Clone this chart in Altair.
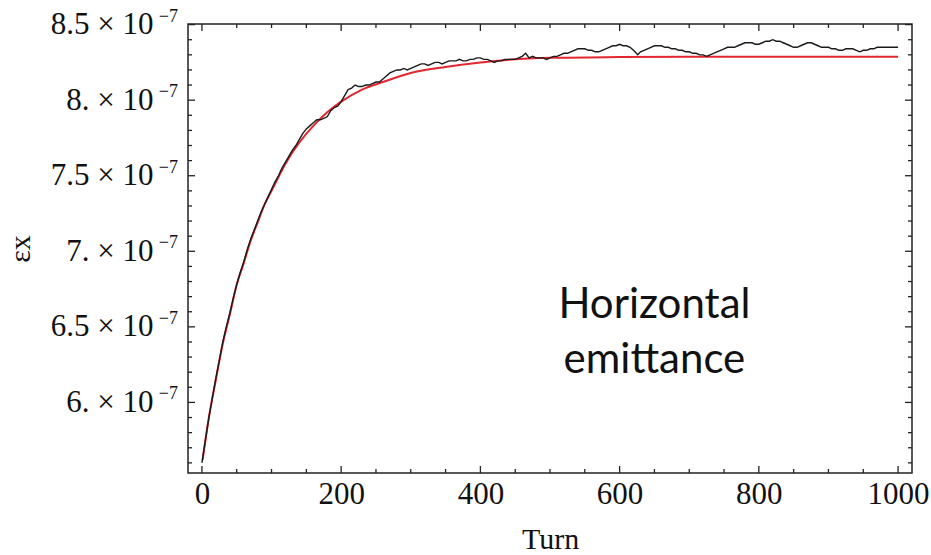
import altair as alt
import pandas as pd

# Simulation (black): turn and emittance in units of 1e-7
black_turn = [0, 5, 10, 15, 20, 25, 30, 35, 40, 45,
              50, 55, 60, 65, 70, 75, 80, 85, 90, 95,
              100, 105, 110, 115, 120, 125, 130, 135, 140, 145,
              150, 155, 160, 165, 170, 175, 180, 185, 190, 195,
              200, 205, 210, 215, 220, 225, 230, 235, 240, 245,
              250, 255, 260, 265, 270, 275, 280, 285, 290, 295,
              300, 305, 310, 315, 320, 325, 330, 335, 340, 345,
              350, 355, 360, 365, 370, 375, 380, 385, 390, 395,
              400, 405, 410, 415, 420, 425, 430, 435, 440, 445,
              450, 455, 460, 465, 470, 475, 480, 485, 490, 495,
              500, 505, 510, 515, 520, 525, 530, 535, 540, 545,
              550, 555, 560, 565, 570, 575, 580, 585, 590, 595,
              600, 605, 610, 615, 620, 626, 630, 635, 640, 645,
              650, 655, 660, 665, 670, 675, 680, 685, 690, 695,
              700, 705, 710, 715, 720, 725, 730, 735, 740, 745,
              750, 755, 760, 765, 770, 775, 780, 785, 790, 795,
              800, 805, 810, 815, 820, 825, 830, 835, 840, 845,
              850, 855, 860, 865, 870, 875, 880, 885, 890, 895,
              900, 905, 910, 915, 920, 925, 930, 935, 940, 945,
              950, 955, 960, 965, 970, 975, 980, 985, 990, 995,
              1000]
black_val = [5.60, 5.75, 5.90, 6.03, 6.16, 6.28, 6.40, 6.50, 6.59, 6.69,
             6.78, 6.86, 6.93, 7.01, 7.08, 7.14, 7.20, 7.26, 7.31, 7.36,
             7.41, 7.46, 7.50, 7.55, 7.59, 7.63, 7.67, 7.70, 7.74, 7.78,
             7.81, 7.83, 7.85, 7.87, 7.87, 7.88, 7.89, 7.93, 7.95, 7.96,
             7.99, 8.03, 8.07, 8.08, 8.10, 8.09, 8.09, 8.10, 8.10, 8.11,
             8.12, 8.12, 8.14, 8.16, 8.18, 8.19, 8.20, 8.20, 8.21, 8.20,
             8.21, 8.22, 8.23, 8.24, 8.24, 8.23, 8.24, 8.25, 8.25, 8.24,
             8.25, 8.26, 8.26, 8.26, 8.27, 8.26, 8.26, 8.27, 8.27, 8.28,
             8.28, 8.27, 8.27, 8.26, 8.25, 8.26, 8.26, 8.27, 8.27, 8.27,
             8.27, 8.28, 8.29, 8.31, 8.28, 8.29, 8.28, 8.28, 8.28, 8.27,
             8.28, 8.29, 8.29, 8.30, 8.31, 8.31, 8.32, 8.33, 8.34, 8.34,
             8.34, 8.33, 8.33, 8.32, 8.32, 8.33, 8.34, 8.35, 8.36, 8.36,
             8.37, 8.36, 8.36, 8.35, 8.33, 8.30, 8.32, 8.33, 8.34, 8.35,
             8.36, 8.36, 8.36, 8.35, 8.35, 8.34, 8.34, 8.33, 8.33, 8.32,
             8.32, 8.31, 8.31, 8.30, 8.30, 8.29, 8.30, 8.31, 8.32, 8.33,
             8.34, 8.35, 8.35, 8.35, 8.36, 8.37, 8.38, 8.38, 8.38, 8.37,
             8.37, 8.38, 8.39, 8.39, 8.40, 8.39, 8.39, 8.38, 8.37, 8.36,
             8.35, 8.35, 8.36, 8.37, 8.38, 8.38, 8.37, 8.36, 8.35, 8.35,
             8.35, 8.34, 8.34, 8.33, 8.33, 8.34, 8.34, 8.34, 8.33, 8.32,
             8.33, 8.33, 8.34, 8.34, 8.35, 8.35, 8.35, 8.35, 8.35, 8.35,
             8.35]

# Fit (red)
red_turn = [1, 10, 20, 30, 40, 50, 60, 70, 80, 90, 100, 120, 140, 160, 180, 200, 230, 260,
            300, 350, 400, 450, 500, 600, 700, 800, 900, 1000]
red_val = [5.62, 5.90, 6.15, 6.39, 6.58, 6.78, 6.92, 7.07, 7.19, 7.31, 7.40, 7.58, 7.72, 7.83,
           7.92, 7.99, 8.07, 8.12, 8.18, 8.22, 8.25, 8.27, 8.28, 8.285, 8.287, 8.287, 8.287, 8.287]

x_major = [0, 200, 400, 600, 800, 1000]
x_minor = [50, 100, 150, 250, 300, 350, 450, 500, 550, 650, 700, 750, 850, 900, 950]
y_major = [6.0, 6.5, 7.0, 7.5, 8.0, 8.5]
y_minor = [5.6, 5.7, 5.8, 5.9, 6.1, 6.2, 6.3, 6.4, 6.6, 6.7, 6.8, 6.9, 7.1, 7.2, 7.3, 7.4,
           7.6, 7.7, 7.8, 7.9, 8.1, 8.2, 8.3, 8.4]
y_exponent = "−7"

note_lines = ["Horizontal", "emittance"]
note_x = [650]
note_y = [6.56]

W, H = 724, 449
SERIF = "Liberation Serif"

xs = alt.Scale(domain=[-20, 1020], nice=False, zero=False)
ys = alt.Scale(domain=[5.533, 8.504], nice=False, zero=False)

black_df = pd.DataFrame({"turn": black_turn, "ex": black_val})
red_df = pd.DataFrame({"turn": red_turn, "ex": red_val})

label_expr = ("(datum.value == floor(datum.value) ? format(datum.value, '.0f') + '.' : "
              "format(datum.value, '.1f')) + ' × 10'")

x_axis = alt.Axis(title="Turn", values=x_major, format="d", grid=False, ticks=False,
                  domain=False, labelFont=SERIF, labelFontSize=31, labelColor="#111",
                  labelPadding=6, titleFont=SERIF, titleFontSize=30,
                  titleFontWeight="normal", titleColor="#111", titleY=75,
                  titleBaseline="alphabetic")
y_axis = alt.Axis(title="εx", values=y_major, labelExpr=label_expr, grid=False,
                  ticks=False, domain=False, labelFont=SERIF, labelFontSize=31,
                  labelColor="#111", labelPadding=35, titleFont=SERIF,
                  titleFontSize=30, titleFontWeight="normal", titleColor="#111",
                  titleAngle=-90, titleX=-168, titleY=H / 2,
                  titleBaseline="middle", titleAlign="center")


def X():
    return alt.X("turn:Q", scale=xs, axis=x_axis, title="Turn")


def Y():
    return alt.Y("ex:Q", scale=ys, axis=y_axis, title="εx")


red = alt.Chart(red_df).mark_line(color="#e3262f", strokeWidth=2,
                                  interpolate="monotone").encode(x=X(), y=Y())

black = alt.Chart(black_df).mark_line(color="#1a1a1a", strokeWidth=1.4).encode(x=X(), y=Y())


def xticks(vals, length, top):
    df = pd.DataFrame({"turn": vals})
    y0 = 0 if top else H
    y1 = length if top else H - length
    return alt.Chart(df).mark_rule(color="#222", strokeWidth=1.3).encode(
        x=X(), y=alt.value(y0), y2=alt.value(y1))


def yticks(vals, length, right):
    df = pd.DataFrame({"ex": vals})
    x0 = W if right else 0
    x1 = W - length if right else length
    return alt.Chart(df).mark_rule(color="#222", strokeWidth=1.3).encode(
        y=Y(), x=alt.value(x0), x2=alt.value(x1))


exp_df = pd.DataFrame({"ex": y_major})
exponents = alt.Chart(exp_df).mark_text(font=SERIF, fontSize=18, color="#111", align="right",
                                        baseline="middle", dy=-8).encode(
    y=Y(), x=alt.value(-10), text=alt.value(y_exponent))

note_df = pd.DataFrame({"turn": note_x, "ex": note_y, "txt": [note_lines]})
note = alt.Chart(note_df).mark_text(font="Lato", fontSize=42, color="#111", align="center",
                                    baseline="alphabetic", lineHeight=55).encode(
    x=X(), y=Y(), text="txt")

chart = alt.layer(
    red, black,
    xticks(x_major, 7, False), xticks(x_minor, 4, False),
    xticks(x_major, 7, True), xticks(x_minor, 4, True),
    yticks(y_major, 7, False), yticks(y_minor, 4, False),
    yticks(y_major, 7, True), yticks(y_minor, 4, True),
    exponents, note,
).properties(
    width=W, height=H,
    autosize="none",
    padding={"left": 188, "top": 24, "right": 19, "bottom": 82},
    background="white",
).configure_view(stroke="#222", strokeWidth=1.5)

chart.save("out.html", embed_options={"renderer": "svg", "actions": False})
